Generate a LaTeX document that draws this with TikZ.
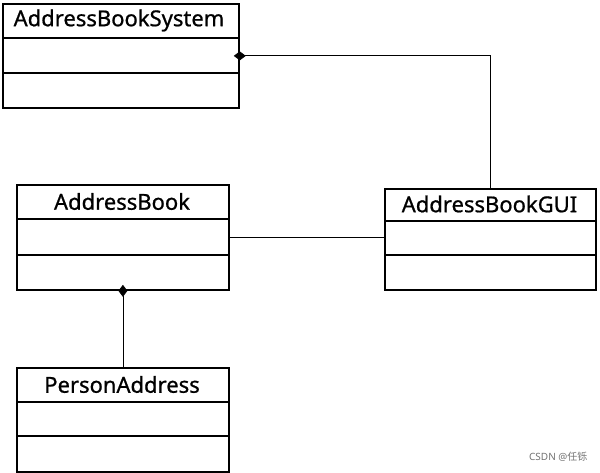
\documentclass[tikz,border=0pt]{standalone}
\usepackage{fontspec}
\setmainfont{Noto Sans}[FakeBold=0.8]
\newfontfamily\cjk{Noto Sans CJK SC}
\newfontfamily\wmfont{Noto Sans}
\usetikzlibrary{arrows.meta}
\begin{document}
\begin{tikzpicture}[x=1pt,y=-1pt,
  cls/.style={draw=black, line width=1.8pt, rectangle, anchor=north west, inner sep=0pt},
  ttl/.style={font=\fontsize{22}{26}\selectfont, anchor=center},
  divider/.style={line width=1.3pt},
  conn/.style={line width=0.8pt},
  comp/.style={conn, -{Diamond[length=12pt,width=9pt]}, shorten >=-6pt}]
\useasboundingbox[fill=white] (0,0) rectangle (600,473);
% AddressBookSystem
\node[cls, minimum width=236pt, minimum height=104pt] (sys) at (2,3) {};
\node[ttl] (sysT) at (119,20.5) {AddressBookSystem};
\draw[divider] (2,38) -- (238,38);
\draw[divider] (2,73) -- (238,73);
% AddressBook
\node[cls, minimum width=212pt, minimum height=105pt] (ab) at (16,184) {};
\node[ttl] (abT) at (122,201.5) {AddressBook};
\draw[divider] (16,219) -- (228,219);
\draw[divider] (16,255) -- (228,255);
% AddressBookGUI
\node[cls, minimum width=211pt, minimum height=101pt] (gui) at (384,188) {};
\node[ttl] (guiT) at (489.5,204) {AddressBookGUI};
\draw[divider] (384,221) -- (595,221);
\draw[divider] (384,255) -- (595,255);
% PersonAddress
\node[cls, minimum width=212pt, minimum height=104pt] (pa) at (16,367) {};
\node[ttl] (paT) at (122,384.5) {PersonAddress};
\draw[divider] (16,402) -- (228,402);
\draw[divider] (16,436) -- (228,436);
% connectors
\draw[comp] (gui.north) |- (sys.east);
\draw[conn] (ab.east) -- (ab.east -| gui.west);
\draw[comp] (pa.north) -- (ab.south);
% watermark
\node[anchor=east, text=black!55, font=\wmfont\fontsize{10}{12}\selectfont] (wm) at (591,457) {CSDN @{\cjk 任铄}};
\end{tikzpicture}
\end{document}
